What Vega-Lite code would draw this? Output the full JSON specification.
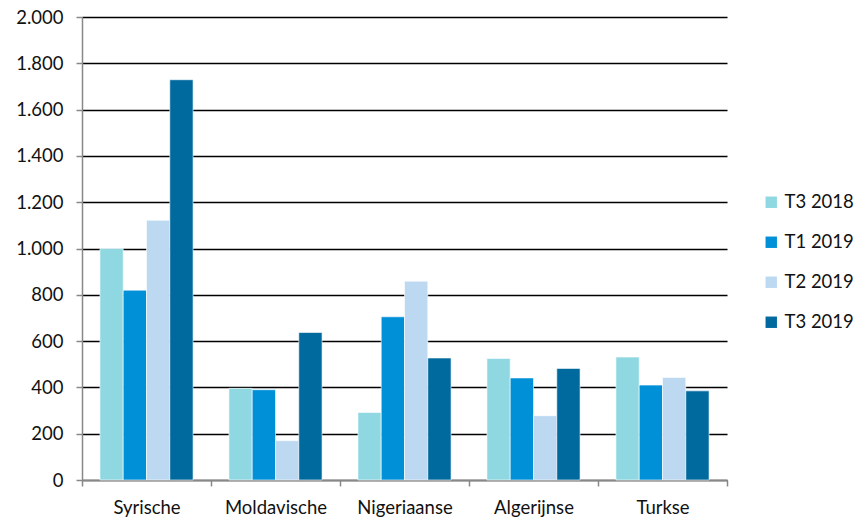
{
  "$schema": "https://vega.github.io/schema/vega-lite/v6.json",
  "width": 645,
  "height": 463,
  "autosize": "none",
  "padding": {"left": 82, "top": 17, "right": 128, "bottom": 41},
  "background": "white",
  "config": {
    "locale": {"number": {"decimal": ",", "thousands": ".", "grouping": [3], "currency": ["€", ""]}},
    "view": {"stroke": null},
    "font": "Lato"
  },
  "data": {
    "values": [
      {"land": "Syrische", "periode": "T3 2018", "aantal": 1000},
      {"land": "Syrische", "periode": "T1 2019", "aantal": 820},
      {"land": "Syrische", "periode": "T2 2019", "aantal": 1122},
      {"land": "Syrische", "periode": "T3 2019", "aantal": 1729},
      {"land": "Moldavische", "periode": "T3 2018", "aantal": 396},
      {"land": "Moldavische", "periode": "T1 2019", "aantal": 390},
      {"land": "Moldavische", "periode": "T2 2019", "aantal": 170},
      {"land": "Moldavische", "periode": "T3 2019", "aantal": 637},
      {"land": "Nigeriaanse", "periode": "T3 2018", "aantal": 292},
      {"land": "Nigeriaanse", "periode": "T1 2019", "aantal": 705},
      {"land": "Nigeriaanse", "periode": "T2 2019", "aantal": 859},
      {"land": "Nigeriaanse", "periode": "T3 2019", "aantal": 527},
      {"land": "Algerijnse", "periode": "T3 2018", "aantal": 525},
      {"land": "Algerijnse", "periode": "T1 2019", "aantal": 441},
      {"land": "Algerijnse", "periode": "T2 2019", "aantal": 278},
      {"land": "Algerijnse", "periode": "T3 2019", "aantal": 482},
      {"land": "Turkse", "periode": "T3 2018", "aantal": 531},
      {"land": "Turkse", "periode": "T1 2019", "aantal": 410},
      {"land": "Turkse", "periode": "T2 2019", "aantal": 443},
      {"land": "Turkse", "periode": "T3 2019", "aantal": 385}
    ]
  },
  "mark": {"type": "bar", "stroke": "white", "strokeWidth": 0.6},
  "encoding": {
    "x": {
      "field": "land",
      "type": "nominal",
      "sort": ["Syrische", "Moldavische", "Nigeriaanse", "Algerijnse", "Turkse"],
      "scale": {"paddingInner": 0, "paddingOuter": 0},
      "axis": {
        "title": null,
        "labelAngle": 0,
        "tickBand": "extent",
        "domainColor": "#888888",
        "domainWidth": 1.5,
        "tickColor": "#888888",
        "tickWidth": 1.5,
        "tickSize": 6,
        "labelFontSize": 18.5,
        "labelColor": "#111111",
        "labelPadding": 12,
        "grid": false
      }
    },
    "xOffset": {
      "field": "periode",
      "type": "nominal",
      "sort": ["T3 2018", "T1 2019", "T2 2019", "T3 2019"],
      "scale": {"paddingInner": 0, "paddingOuter": 0.77}
    },
    "y": {
      "field": "aantal",
      "type": "quantitative",
      "scale": {"domain": [0, 2000], "nice": false},
      "axis": {
        "title": null,
        "values": [0, 200, 400, 600, 800, 1000, 1200, 1400, 1600, 1800, 2000],
        "format": ",.0f",
        "grid": true,
        "gridColor": "#000000",
        "gridWidth": 1.3,
        "domainColor": "#888888",
        "domainWidth": 1.5,
        "tickColor": "#888888",
        "tickWidth": 1.5,
        "tickSize": 6,
        "labelFontSize": 18.5,
        "labelColor": "#111111",
        "labelPadding": 13
      }
    },
    "color": {
      "field": "periode",
      "type": "nominal",
      "sort": ["T3 2018", "T1 2019", "T2 2019", "T3 2019"],
      "scale": {
        "domain": ["T3 2018", "T1 2019", "T2 2019", "T3 2019"],
        "range": ["#8FD8E2", "#0090D8", "#BDD9F2", "#00699E"]
      },
      "legend": {
        "title": null,
        "orient": "none",
        "legendX": 680,
        "legendY": 176,
        "symbolType": "square",
        "symbolSize": 130,
        "symbolStrokeWidth": 0,
        "labelFontSize": 18.5,
        "labelColor": "#111111",
        "labelOffset": 4,
        "rowPadding": 21,
        "padding": 0
      }
    }
  }
}
